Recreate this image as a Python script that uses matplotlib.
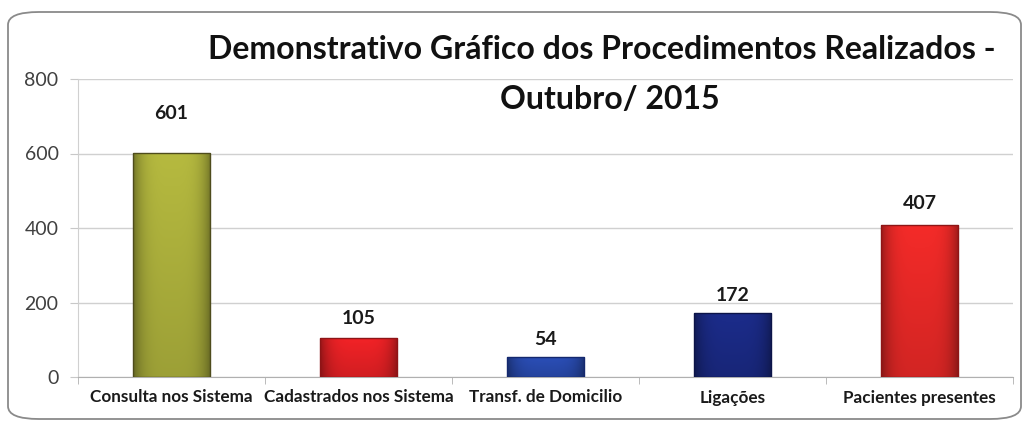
import matplotlib
matplotlib.use("Agg")
import matplotlib.pyplot as plt
from matplotlib.patches import FancyBboxPatch
from matplotlib.colors import to_rgb
import numpy as np

categories = ["Consulta nos Sistema", "Cadastrados nos Sistema", "Transf. de Domicilio",
              "Ligações", "Pacientes presentes"]
values = [601, 105, 54, 172, 407]
colors = ["#b2b63e", "#ee2226", "#2a4db4", "#1b2b88", "#ef2a28"]
edges = ["#4e4c1c", "#8e1416", "#14286e", "#0c1448", "#8e1616"]
yticks = [0, 200, 400, 600, 800]
title_line1 = "Demonstrativo Gráfico dos Procedimentos Realizados -"
title_line2 = "Outubro/ 2015"
label_gap_px = [40, 19, 17, 17, 22]

W, H, DPI = 1029, 425, 100
fig = plt.figure(figsize=(W / DPI, H / DPI), dpi=DPI)
fig.patch.set_facecolor("white")

frame = FancyBboxPatch((8 / W, 6 / H), (W - 16) / W, (H - 18) / H,
                       boxstyle="round,pad=0,rounding_size=0.03",
                       transform=fig.transFigure, fill=False,
                       edgecolor="#8a8a8a", linewidth=1.3)
fig.patches.append(frame)

ax = fig.add_axes([78 / W, (H - 377) / H, (1013 - 78) / W, (377 - 79) / H])
x = np.arange(len(categories))
bars = ax.bar(x, values, width=0.415, color=colors, edgecolor=edges, linewidth=1.0, zorder=3)

# gradient shading clipped to each bar
for b, c in zip(bars, colors):
    base = np.array(to_rgb(c))
    nx, ny = 60, 60
    u = np.linspace(-1, 1, nx)
    side = 1 - 0.35 * np.abs(u) ** 4
    vv = np.linspace(0, 1, ny)[:, None]
    img = base[None, None, :] * side[None, :, None] * (0.88 + 0.14 * vv[:, :, None])
    img = img * np.ones((ny, 1, 1))
    img = np.clip(img, 0, 1)
    x0, y0 = b.get_x(), b.get_y()
    im = ax.imshow(img, extent=[x0, x0 + b.get_width(), y0, y0 + b.get_height()],
                   origin="lower", aspect="auto", zorder=3.5, interpolation="bilinear")
    im.set_clip_path(b)
    b.set_facecolor("none")
    b.set_zorder(4)

ax.set_xlim(-0.5, len(categories) - 0.5)
ax.set_ylim(0, 800)
ax.set_yticks(yticks)
ax.set_yticklabels([str(t) for t in yticks], fontsize=14, color="#404040", family="Lato")
ax.yaxis.grid(True, color="#d0d0d0", linewidth=1.0, zorder=0)
ax.tick_params(axis="y", length=6, color="#c8c8c8", pad=8)

ax.set_xticks(x)
ax.set_xticklabels(categories, fontsize=12.3, fontweight="bold", family="Lato", color="#1a1a1a")
ax.set_xticks(np.arange(len(categories) + 1) - 0.5, minor=True)
ax.tick_params(axis="x", which="major", length=0, pad=9)
ax.tick_params(axis="x", which="minor", length=5, color="#b0b0b0")

for s in ["top", "right"]:
    ax.spines[s].set_visible(False)
ax.spines["left"].set_color("#d0d0d0")
ax.spines["bottom"].set_color("#b0b0b0")

for b, v, g in zip(bars, values, label_gap_px):
    ax.annotate(str(v), (b.get_x() + b.get_width() / 2, v), xytext=(0, g),
                textcoords="offset pixels", ha="center", va="center",
                fontsize=14, fontweight="bold", family="Lato", color="#1a1a1a", zorder=5)

fig.text(602 / W, (H - 59) / H, title_line1, ha="center", va="baseline", fontsize=23,
         fontweight="bold", family="Lato", color="#111111")
fig.text(610 / W, (H - 109) / H, title_line2, ha="center", va="baseline", fontsize=23,
         fontweight="bold", family="Lato", color="#111111")

fig.savefig("out.png", dpi=DPI)
